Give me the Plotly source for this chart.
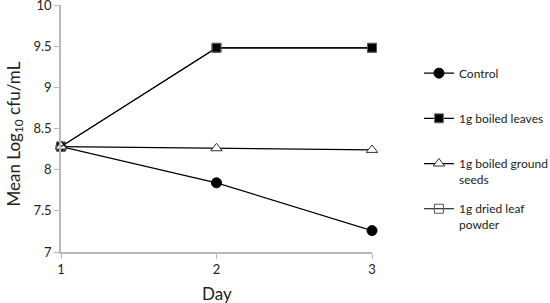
import plotly.graph_objects as go

days = [1, 2, 3]
control = [8.28, 7.84, 7.26]
boiled_leaves = [8.28, 9.48, 9.48]
boiled_seeds = [8.28, 8.26, 8.24]
dried_powder = [8.28, 9.48, 9.48]
names = ["Control<br> ", "1g boiled leaves<br> ", "1g boiled ground<br>seeds", "1g dried leaf<br>powder"]
y_ticks = [7, 7.5, 8, 8.5, 9, 9.5, 10]
x_ticks = [1, 2, 3]

FONT = "Lato, Liberation Sans, sans-serif"
TXT = "#222222"

fig = go.Figure()
specs = [
    (control, dict(symbol="circle", size=10, color="black", line=dict(color="black", width=1))),
    (boiled_leaves, dict(symbol="square", size=9, color="black", line=dict(color="#777777", width=1))),
    (boiled_seeds, dict(symbol="triangle-up", size=10, color="white", line=dict(color="#333333", width=1))),
    (dried_powder, dict(symbol="square-open", size=9, color="#555555", line=dict(color="#555555", width=1))),
]
for i, (vals, mk) in enumerate(specs):
    fig.add_trace(go.Scatter(
        x=days, y=vals, mode="lines+markers", name=names[i],
        line=dict(color="black", width=1.2), marker=mk,
        legendgroup=f"g{i}", cliponaxis=False,
    ))

fig.update_layout(
    width=550, height=303,
    margin=dict(l=61, r=178, t=5, b=51, autoexpand=False),
    paper_bgcolor="white", plot_bgcolor="white",
    font=dict(family=FONT, size=13, color=TXT),
    showlegend=True,
    legend=dict(x=1.151, y=0.782, xanchor="left", yanchor="top", valign="top",
                tracegroupgap=11, itemwidth=30,
                font=dict(family=FONT, size=12, color=TXT)),
    xaxis=dict(range=[1, 3], tickvals=x_ticks, showgrid=False, zeroline=False,
               showline=True, linecolor="#b8b8b8", linewidth=1.5,
               ticks="outside", ticklen=5, tickcolor="#b8b8b8", automargin=False),
    yaxis=dict(range=[7, 10], tickvals=y_ticks, ticktext=[str(v) for v in y_ticks],
               showgrid=False, zeroline=False, ticklabeloverflow="allow",
               showline=True, linecolor="#b8b8b8", linewidth=1.5,
               ticks="outside", ticklen=5, tickcolor="#b8b8b8", automargin=False),
    annotations=[
        dict(text="Mean Log<sub>10</sub> cfu/mL", xref="paper", yref="paper",
             x=-0.148, y=0.48, xanchor="center", yanchor="middle", textangle=-90,
             showarrow=False, font=dict(family=FONT, size=17, color=TXT)),
        dict(text="Day", xref="paper", yref="paper",
             x=0.5, y=-0.166, xanchor="center", yanchor="middle",
             showarrow=False, font=dict(family=FONT, size=17, color=TXT)),
    ],
)

fig.write_html("out.html", config={"displayModeBar": False},
               post_script="document.body.style.margin='0';")
